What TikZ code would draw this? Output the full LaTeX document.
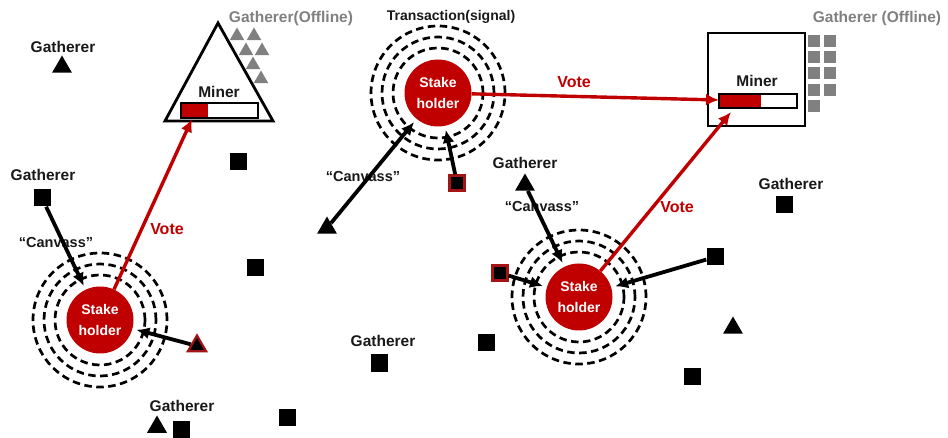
\documentclass[tikz,border=0pt]{standalone}
\usepackage{fontspec}
\setmainfont{Liberation Sans}
\usetikzlibrary{arrows.meta,shapes.geometric}
\definecolor{shred}{RGB}{192,0,0}
\definecolor{bordred}{RGB}{165,20,20}
\definecolor{offgray}{RGB}{128,128,128}
\definecolor{txt}{RGB}{25,25,25}
\begin{document}
\begin{tikzpicture}[x=1pt,y=-1pt,
  lbl/.style={font=\fontsize{15.5}{18}\selectfont\bfseries, text=txt, inner sep=0pt},
  offlbl/.style={font=\fontsize{15.5}{18}\selectfont\bfseries, text=offgray, inner sep=0pt},
  canvlbl/.style={font=\fontsize{14.5}{17}\selectfont\bfseries, text=txt, inner sep=0pt},
  votelbl/.style={font=\fontsize{16}{18}\selectfont\bfseries, text=shred, inner sep=0pt},
  gsq/.style={fill=black, minimum size=17pt, inner sep=0pt},
  gtri/.style={regular polygon, regular polygon sides=3, fill=black, minimum size=23pt, inner sep=0pt},
  rsq/.style={gsq, draw=bordred, line width=2.2pt, minimum size=15pt},
  rtri/.style={gtri, draw=bordred, line width=2.2pt, minimum size=21pt},
  offtri/.style={regular polygon, regular polygon sides=3, fill=offgray, minimum size=17pt, inner sep=0pt},
  offsq/.style={fill=offgray, minimum size=12.5pt, inner sep=0pt},
  shnode/.style={circle, fill=shred, minimum size=67pt, inner sep=0pt, text=white,
     font=\fontsize{14}{21}\selectfont\bfseries, align=center},
  ring/.style={draw=black, line width=2.7pt, dash pattern=on 7.5pt off 4.5pt},
  canv/.style={draw=black, line width=3.8pt, -{Latex[length=13pt,width=12pt]}, shorten >=4pt},
  vote/.style={draw=shred, line width=3.4pt, -{Latex[length=13pt,width=12pt]}},
  frame/.style={draw=black, line width=2.8pt}
]
\useasboundingbox (0,0) rectangle (948,438);

% ---------- Miner (triangle) ----------
\draw[frame, line join=miter] (165,121) -- (218,23) -- (273,121) -- cycle;
\node[lbl] (miner1) at (219,92) {Miner};
\fill[shred] (181,103) rectangle (208,118);
\draw[frame] (181,103) rectangle (258,118);
\coordinate (bar1) at (192,119);
\node[offlbl] (off1) at (291,18) {Gatherer(Offline)};
\node[offtri] (ot1) at (237,36) {};
\node[offtri] (ot2) at (254,36) {};
\node[offtri] (ot3) at (246,51) {};
\node[offtri] (ot4) at (262,51) {};
\node[offtri] (ot5) at (253,65) {};
\node[offtri] (ot6) at (261,79) {};

% ---------- Miner (square) ----------
\draw[frame] (708,33) rectangle (805,126);
\node[lbl] (miner2) at (757,81) {Miner};
\fill[shred] (719,94) rectangle (761,108);
\draw[frame] (719,94) rectangle (797,108);
\coordinate (bar2w) at (719,100);
\coordinate (bar2b) at (731,112);
\node[offlbl] (off2) at (877,18) {Gatherer (Offline)};
\foreach \r/\yy in {1/41,2/57,3/73,4/90,5/106}{
  \node[offsq] (osa\r) at (814,\yy) {};
}
\foreach \r/\yy in {1/41,2/57,3/73,4/90}{
  \node[offsq] (osb\r) at (830,\yy) {};
}

% ---------- Stakeholders ----------
\node[shnode] (sh1) at (100,320) {Stake\\holder};
\node[shnode] (sh2) at (438,93) {Stake\\holder};
\node[shnode] (sh3) at (579,297) {Stake\\holder};
\foreach \s in {sh1,sh2,sh3}{
  \foreach \r in {45,56,67}{
    \draw[ring] (\s) circle [radius=\r pt];
  }
}
\node[lbl, font=\fontsize{14}{16}\selectfont\bfseries] (tx) at (451,17) {Transaction(signal)};

% ---------- Gatherers ----------
\node[lbl] (lg1) at (63,47) {Gatherer};
\node[gtri] (g1) at (62,67) {};
\node[lbl] (lg2) at (43,175) {Gatherer};
\node[gsq] (g2) at (42,198) {};
\node[gsq] (g3) at (238,162) {};
\node[gsq] (g4) at (255,268) {};
\node[lbl] (lg5) at (383,341) {Gatherer};
\node[gsq] (g5) at (379,363) {};
\node[gsq] (g6) at (287,417) {};
\node[lbl] (lg7) at (182,406) {Gatherer};
\node[gtri] (g7) at (157,427) {};
\node[gsq] (g8) at (181,429.5) {};
\node[gsq] (g9) at (486,343) {};
\node[lbl] (lg10) at (525,163) {Gatherer};
\node[gtri] (g10) at (525,185) {};
\node[gsq] (g11) at (715,257) {};
\node[gtri] (g12) at (733,328) {};
\node[gsq] (g13) at (692,376) {};
\node[lbl] (lg14) at (791,184) {Gatherer};
\node[gsq] (g14) at (784,205) {};
\node[gtri] (g15) at (327,228) {};
\node[rtri] (r1) at (197,346) {};
\node[rsq] (r2) at (457,183) {};
\node[rsq] (r3) at (500,273) {};

% ---------- Labels ----------
\node[canvlbl] (c1) at (56,243) {“Canvass”};
\node[canvlbl] (c2) at (363,177) {“Canvass”};
\node[canvlbl] (c3) at (542,207) {“Canvass”};
\node[votelbl] (v1) at (167,229) {Vote};
\node[votelbl] (v2) at (574,82) {Vote};
\node[votelbl] (v3) at (677,207) {Vote};

% ---------- Canvass arrows ----------
\draw[canv] (g2) -- (sh1);
\draw[canv] (r1) -- (sh1);
\draw[canv] (g15) -- (sh2);
\draw[canv] (r2) -- (sh2);
\draw[canv] (g10) -- (sh3);
\draw[canv] (r3) -- (sh3);
\draw[canv] (g11) -- (sh3);

% ---------- Vote arrows ----------
\draw[vote] (sh1) -- (bar1);
\draw[vote] (sh2) -- (bar2w);
\draw[vote] (sh3) -- (bar2b);
\end{tikzpicture}
\end{document}
